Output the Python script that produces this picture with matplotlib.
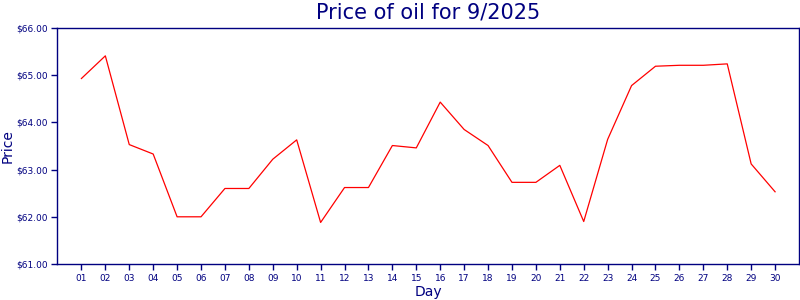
import matplotlib
matplotlib.use("Agg")
import matplotlib.pyplot as plt
from matplotlib.ticker import FuncFormatter

days = [f"{d:02d}" for d in range(1, 31)]
prices = [64.93, 65.41, 63.53, 63.33, 62.00, 62.00, 62.60, 62.60, 63.22, 63.63,
          61.88, 62.62, 62.62, 63.51, 63.46, 64.43, 63.85, 63.51, 62.73, 62.73,
          63.09, 61.90, 63.64, 64.78, 65.19, 65.21, 65.21, 65.24, 63.12, 62.53]
y_ticks = [61, 62, 63, 64, 65, 66]
title = "Price of oil for 9/2025"

navy = "#000080"
plt.rcParams['font.family'] = ['DejaVu Sans']

fig = plt.figure(figsize=(8, 3), dpi=100)
ax = fig.add_axes([57.5/800, 1-264/300, (799-57.5)/800, (264-28)/300])
x = list(range(1, len(days)+1))
ax.plot(x, prices, color="red", lw=0.9)
ax.set_xlim(0, 31)
ax.set_ylim(61, 66)
ax.set_xticks(x)
ax.set_xticklabels(days)
ax.set_yticks(y_ticks)
ax.yaxis.set_major_formatter(FuncFormatter(lambda v, p: f"${v:.2f}"))
for s in ax.spines.values():
    s.set_color(navy)
    s.set_linewidth(1.0)
ax.tick_params(colors=navy, labelsize=6.5, length=4, width=1.0, pad=3)
ax.set_xlabel("Day", color=navy, fontsize=10)
ax.set_ylabel("Price", color=navy, fontsize=10)
ax.xaxis.set_label_coords(0.5, -0.088)
ax.yaxis.set_label_coords(-0.058, 0.5)
fig.text(428/800, 1-12/300, title, color=navy, fontsize=15, ha="center", va="center")
fig.savefig("out.png", dpi=100)
